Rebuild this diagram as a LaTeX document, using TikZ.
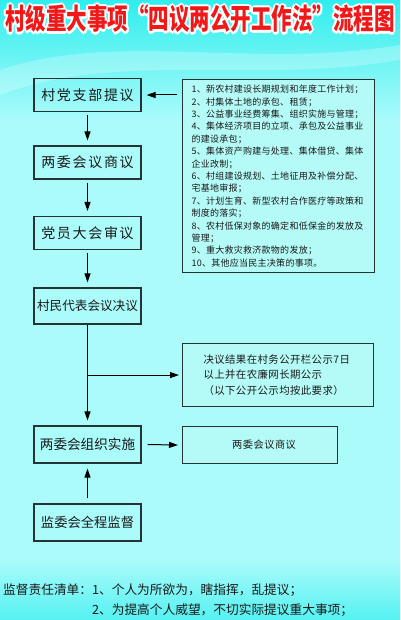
\documentclass[tikz,border=0pt]{standalone}
\usepackage{fontspec}
\usepackage{graphicx}
\setmainfont{Noto Sans CJK SC}
\usetikzlibrary{arrows.meta,positioning,calc}

\definecolor{bgcyan}{HTML}{ABFBFB}
\definecolor{topcyan}{HTML}{30EDED}
\definecolor{boxline}{HTML}{243434}
\definecolor{listfill}{HTML}{B4FBF8}
\definecolor{titlered}{HTML}{F01818}

% white rim round the red title
\newcommand{\haloed}[1]{%
  \foreach \dx/\dy in {1.8/0,-1.8/0,0/1.8,0/-1.8,1.3/1.3,-1.3/1.3,1.3/-1.3,-1.3/-1.3}%
    {\rlap{\kern\dx pt\raisebox{\dy pt}{\color{white}#1}}}%
  {\color{titlered}#1}}

\begin{document}
\begin{tikzpicture}[%
    x=1pt, y=-1pt,
    >={Triangle[length=9pt,width=6pt]},
    node distance=67.5pt,
    on grid,
    box/.style={draw=boxline, line width=1.1pt, minimum width=107pt,
      minimum height=33pt, inner sep=0pt, text=black!90,
      font=\fontsize{14}{16}\selectfont\addfontfeatures{LetterSpace=12}},
    side/.style={draw=boxline, line width=1.1pt, fill=listfill,
      anchor=north west, align=left, text=black!90},
    flow/.style={->, line width=1pt, shorten <=3pt, shorten >=5pt}
  ]
  % background
  \fill[bgcyan] (0,0) rectangle (400,620);
  \shade[top color=topcyan, bottom color=bgcyan] (0,0) rectangle (400,120);
  \fill[white, opacity=0.25] (0,70) .. controls (120,30) and (250,70) .. (400,45)
    -- (400,60) .. controls (250,85) and (120,50) .. (0,95) -- cycle;
  \shade[top color=bgcyan, bottom color=topcyan!70!bgcyan] (0,560) rectangle (400,620);
  \useasboundingbox (0,0) rectangle (400,620);

  \node (title) at (200,19) {\fontsize{20.5}{22}\selectfont\bfseries
    \scalebox{1}[1.4]{\haloed{村级重大事项“四议两公开工作法”流程图}}};

  \node[box] (1) at (87.5,95) {村党支部提议};
  \node[box] (2) [below=67.5pt of 1] {两委会议商议};
  \node[box] (3) [below=70.5pt of 2] {党员大会审议};
  \node[box, minimum height=36pt, font=\fontsize{12.6}{14}\selectfont] (4)
    [below=73pt of 3] {村民代表会议决议};
  \node[box, minimum height=37pt, font=\fontsize{13.6}{15}\selectfont] (5)
    [below=138.5pt of 4] {两委会组织实施};
  \node[box, minimum height=37pt, font=\fontsize{13.3}{15}\selectfont] (6)
    [below=78pt of 5] {监委会全程监督};

  \node[side, inner xsep=9pt, inner ysep=0pt, text width=174pt, minimum height=193pt,
    font=\fontsize{9}{12.4}\selectfont\addfontfeatures{LetterSpace=3}] (list)
    at (182,79) {%
    1、新农村建设长期规划和年度工作计划；\\
    2、村集体土地的承包、租赁；\\
    3、公益事业经费筹集、组织实施与管理；\\
    4、集体经济项目的立项、承包及公益事业\\
    的建设承包；\\
    5、集体资产购建与处理、集体借贷、集体\\
    企业改制；\\
    6、村组建设规划、土地征用及补偿分配、\\
    宅基地审报；\\
    7、计划生育、新型农村合作医疗等政策和\\
    制度的落实；\\
    8、农村低保对象的确定和低保金的发放及\\
    管理；\\
    9、重大救灾救济款物的发放；\\
    10、其他应当民主决策的事项。};

  \node[side, inner xsep=21pt, inner ysep=0pt, text width=149pt, minimum height=63pt,
    font=\fontsize{10.4}{15.5}\selectfont\addfontfeatures{LetterSpace=4}] (result)
    at (182,343) {%
    决议结果在村务公开栏公示7日\\
    以上并在农廉网长期公示\\
    （以下公开公示均按此要求）};

  \node[side, align=center, inner sep=0pt, minimum width=155pt, minimum height=37pt,
    font=\fontsize{10.2}{12}\selectfont\addfontfeatures{LetterSpace=5}] (talk)
    at (182,426) {\hspace*{8pt}两委会议商议};

  \draw[<-, line width=1pt] ([xshift=5pt]1.east) -- ([xshift=-5pt]list.west |- 1.east);
  \path[flow] (1) edge (2)
              (2) edge (3)
              (3) edge (4);
  \coordinate (split) at (4.south |- result.west);
  \draw[->, line width=1pt, shorten >=5pt] (4) -- (5);
  \draw[->, line width=1pt, shorten >=3pt] (split) -- (split -| result.west);
  \draw[->, line width=1pt] ([xshift=6pt]5.east) -- ([xshift=-4pt]talk.west);
  \path[flow, shorten <=5pt] (6) edge (5);

  \node[anchor=base west, inner sep=0pt, text=black!90,
    font=\fontsize{12.7}{20}\selectfont] (duty) at (3,594.5)
    {监督责任清单：\begin{tabular}[t]{@{}l@{}}
      1、个人为所欲为，瞎指挥，乱提议；\\
      2、为提高个人威望，不切实际提议重大事项；
    \end{tabular}};
\end{tikzpicture}
\end{document}
